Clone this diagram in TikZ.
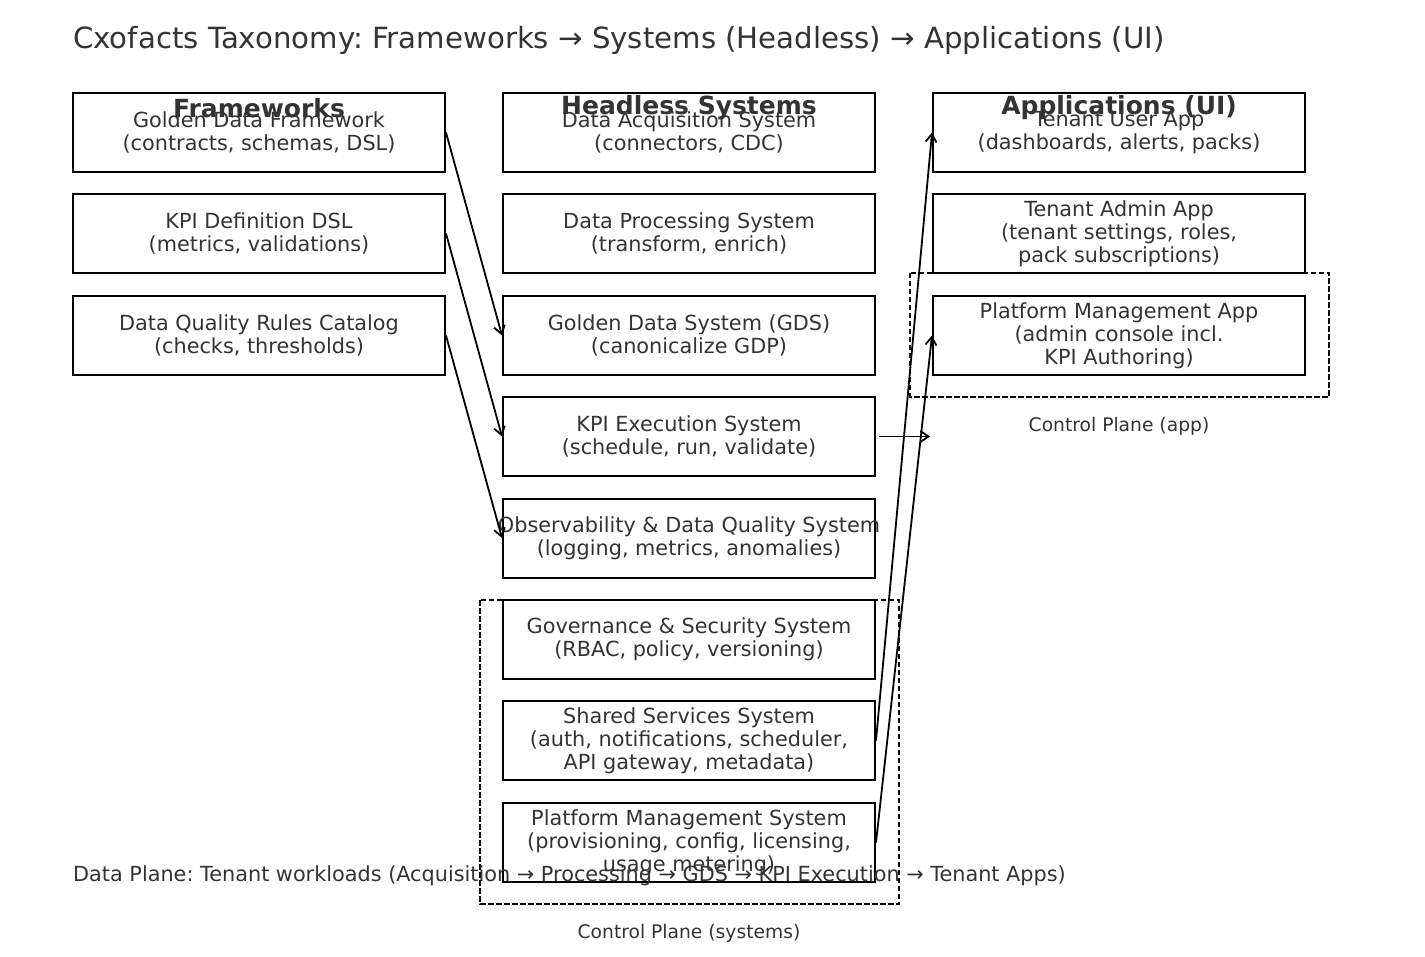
\documentclass[tikz,border=0pt]{standalone}
\usepackage{fontspec}
\setmainfont{DejaVu Sans}
\frenchspacing
\usetikzlibrary{arrows.meta}
\definecolor{txt}{HTML}{333333}
\tikzset{
  box/.style={draw=black, line width=2pt, minimum width=372pt, minimum height=79pt, inner sep=0pt, align=center, text=txt, font=\fontsize{20.8}{23}\selectfont},
  head/.style={text=txt, font=\fontsize{25}{29}\selectfont\bfseries, inner sep=0pt},
  small/.style={text=txt, font=\fontsize{18.7}{22}\selectfont, inner sep=0pt},
  conn/.style={line width=1.8pt, -{Straight Barb[length=8pt,width=11pt,line width=1.8pt]}},
  zone/.style={draw=black, line width=1.8pt, dash pattern=on 5.5pt off 2.5pt}
}
\begin{document}
\begin{tikzpicture}[x=1pt,y=-1pt]
\useasboundingbox (0,0) rectangle (1425,957);
% title
\node[anchor=west, text=txt, font=\fontsize{29.2}{34}\selectfont, inner sep=0pt] (title) at (73,40) {Cxofacts Taxonomy: Frameworks → Systems (Headless) → Applications (UI)};
% zones
\draw[zone] (910,273) rectangle (1329,397);
\draw[zone] (480,600) rectangle (899,904);
\node[small] (cpapp) at (1119,426) {Control Plane (app)};
\node[small] (cpsys) at (689,933) {Control Plane (systems)};
% frameworks
\node[box] (f1) at (259,132.5) {Golden Data Framework\\(contracts, schemas, DSL)};
\node[box] (f2) at (259,233.5) {KPI Definition DSL\\(metrics, validations)};
\node[box] (f3) at (259,335.5) {Data Quality Rules Catalog\\(checks, thresholds)};
% systems
\node[box] (s1) at (689,132.5) {Data Acquisition System\\(connectors, CDC)};
\node[box] (s2) at (689,233.5) {Data Processing System\\(transform, enrich)};
\node[box] (s3) at (689,335.5) {Golden Data System (GDS)\\(canonicalize GDP)};
\node[box] (s4) at (689,436.5) {KPI Execution System\\(schedule, run, validate)};
\node[box] (s5) at (689,538) {\makebox[360pt]{Observability \& Data Quality System}\\(logging, metrics, anomalies)};
\node[box] (s6) at (689,639.5) {Governance \& Security System\\(RBAC, policy, versioning)};
\node[box] (s7) at (689,740.5) {Shared Services System\\(auth, notifications, scheduler,\\API gateway, metadata)};
\node[box] (s8) at (689,842.5) {Platform Management System\\(provisioning, config, licensing,\\usage metering)};
% apps
\node[box] (a1) at (1119,132.5) {Tenant User App\\(dashboards, alerts, packs)};
\node[box] (a2) at (1119,233.5) {Tenant Admin App\\(tenant settings, roles,\\pack subscriptions)};
\node[box] (a3) at (1119,335.5) {Platform Management App\\(admin console incl.\\KPI Authoring)};
% headers
\node[head] (h1) at (259,108) {Frameworks};
\node[head] (h2) at (689,108) {Headless Systems};
\node[head] (h3) at (1119,108) {Applications (UI)};
% data plane
\node[anchor=west, text=txt, font=\fontsize{20.8}{23}\selectfont, inner sep=0pt] (dp) at (73,876) {Data Plane: Tenant workloads (Acquisition → Processing → GDS → KPI Execution → Tenant Apps)};
% connectors
\draw[conn] (f1.east) -- (s3.west);
\draw[conn] (f2.east) -- (s4.west);
\draw[conn] (f3.east) -- (s5.west);
\coordinate (kend) at (930,436.5);
\draw[conn] ([xshift=3pt]s4.east) -- (kend);
\draw[conn] (s7.east) -- (a1.west);
\draw[conn] (s8.east) -- (a3.west);
\end{tikzpicture}
\end{document}
